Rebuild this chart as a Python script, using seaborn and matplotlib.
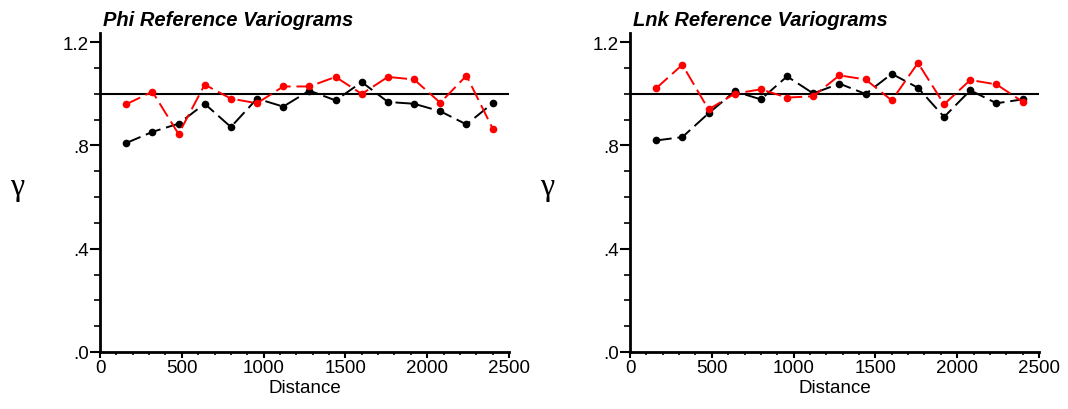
import numpy as np
import pandas as pd
import matplotlib
matplotlib.use("Agg")
import matplotlib.pyplot as plt
import seaborn as sns
from matplotlib.ticker import MultipleLocator, FuncFormatter

# Lag distances shared by both variograms
lags = [160, 320, 480, 640, 800, 960, 1120, 1280, 1440, 1600, 1760, 1920, 2080, 2240, 2400]

# Phi variogram values (black and red series)
phi_black = [0.809, 0.852, 0.884, 0.961, 0.871, 0.981, 0.950, 1.012, 0.974, 1.045,
             0.968, 0.961, 0.932, 0.881, 0.963]
phi_red = [0.959, 1.008, 0.844, 1.035, 0.981, 0.963, 1.028, 1.028, 1.065, 0.999,
           1.065, 1.055, 0.965, 1.070, 0.865]

# Lnk variogram values (black and red series)
lnk_black = [0.819, 0.832, 0.924, 1.009, 0.978, 1.067, 1.001, 1.039, 0.999, 1.077,
             1.023, 0.910, 1.013, 0.963, 0.978]
lnk_red = [1.021, 1.112, 0.939, 1.000, 1.017, 0.985, 0.990, 1.071, 1.055, 0.974,
           1.119, 0.959, 1.053, 1.036, 0.969]

titles = ["Phi Reference Variograms", "Lnk Reference Variograms"]
sill = 1.0

sns.set_style("ticks", {"axes.edgecolor": "black", "xtick.color": "black",
                        "ytick.color": "black", "text.color": "black",
                        "axes.labelcolor": "black"})
plt.rcParams["font.family"] = ["Liberation Sans", "DejaVu Sans"]

fig = plt.figure(figsize=(10.68, 4.10), dpi=100)
W, H = 1068, 410
bottom_px, top_px = 353, 34
ax_w = 409
lefts = [100, 630]

def ylab(v, pos):
    s = f"{v:.1f}"
    return s[1:] if s.startswith("0") else s

panels = [(phi_black, phi_red), (lnk_black, lnk_red)]
for i, ((blk, red), title, lx) in enumerate(zip(panels, titles, lefts)):
    ax = fig.add_axes([lx / W, (H - bottom_px) / H, ax_w / W, (bottom_px - top_px) / H])
    dash = (0, (8, 3))
    for vals, col in [(blk, "black"), (red, "red")]:
        df = pd.DataFrame({"Distance": lags, "gamma": vals})
        sns.lineplot(data=df, x="Distance", y="gamma", ax=ax, color=col,
                     linewidth=1.4, linestyle=dash, marker="o", markersize=5.5,
                     markeredgecolor=col, markeredgewidth=0, zorder=3)
    ax.axhline(sill, color="black", linewidth=1.5, zorder=2)

    ax.set_xlim(0, 2500)
    ax.set_ylim(0, 1.235)
    ax.xaxis.set_major_locator(MultipleLocator(500))
    ax.xaxis.set_minor_locator(MultipleLocator(100))
    ax.yaxis.set_major_locator(MultipleLocator(0.4))
    ax.yaxis.set_minor_locator(MultipleLocator(0.1))
    ax.yaxis.set_major_formatter(FuncFormatter(ylab))
    ax.tick_params(axis="x", which="major", length=4, width=1.5, labelsize=13.5, pad=1,
                   colors="black")
    ax.tick_params(axis="x", which="minor", length=2.5, width=1.2, colors="black")
    ax.tick_params(axis="y", which="major", length=7, width=1.5, labelsize=13.5, pad=1,
                   colors="black")
    ax.tick_params(axis="y", which="minor", length=4, width=1.2, colors="black")
    for s in ["top", "right"]:
        ax.spines[s].set_visible(False)
    for s in ["left", "bottom"]:
        ax.spines[s].set_linewidth(2)
        ax.spines[s].set_color("black")
    ax.set_xlabel("Distance", fontsize=13.5, labelpad=2, color="black")
    ax.set_ylabel("")
    fig.text((lx + 3) / W, 1 - 21 / H, title, fontsize=14.5, fontweight="bold",
             fontstyle="italic", ha="left", va="center", color="black")
    fig.text((lx - 83) / W, 1 - 188 / H, "γ", fontsize=23, color="black",
             family=["Liberation Serif", "DejaVu Serif"], ha="center", va="center")

fig.savefig("out.png", dpi=100)
